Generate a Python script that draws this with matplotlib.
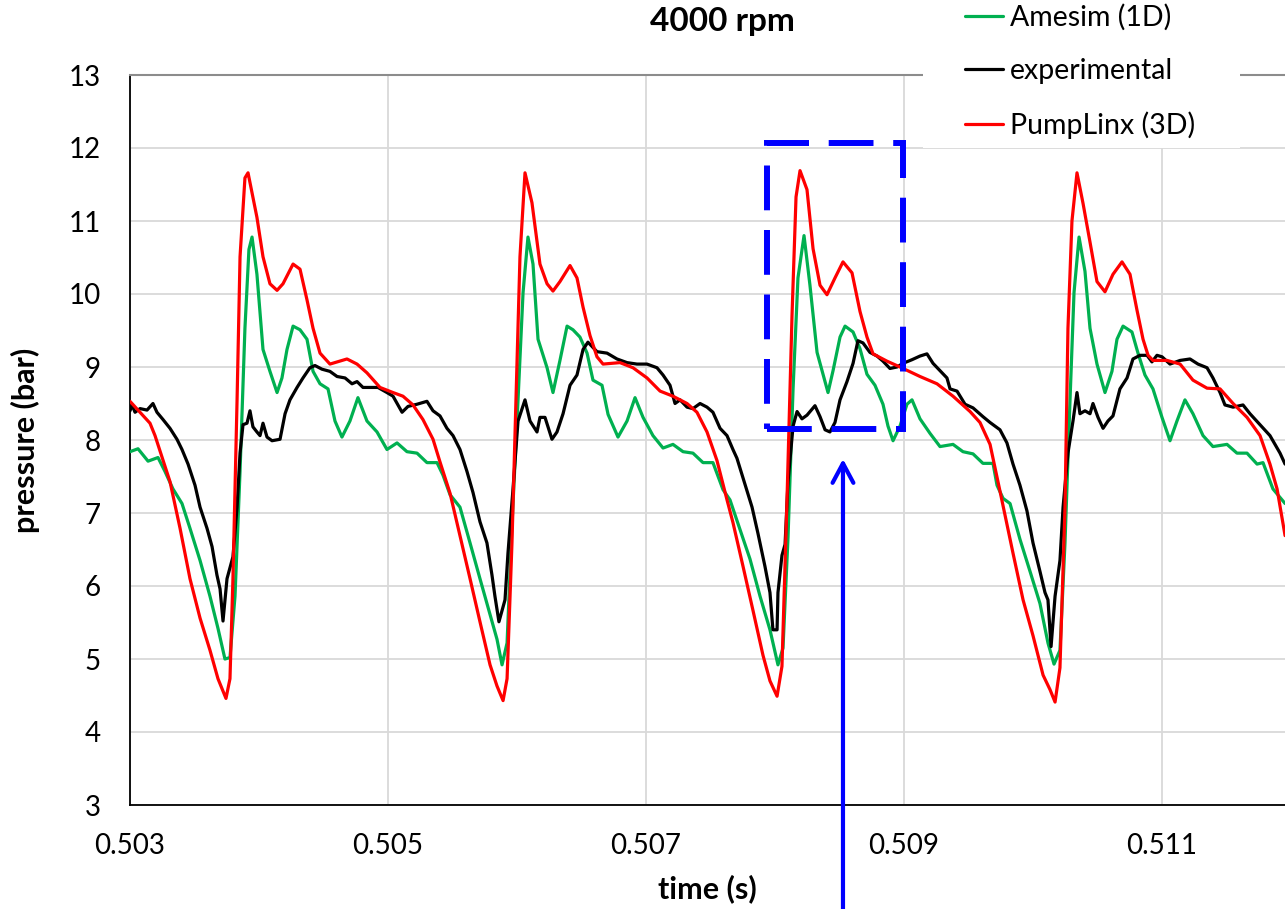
import matplotlib
matplotlib.use("Agg")
import matplotlib.pyplot as plt
from matplotlib.patches import Rectangle

plt.rcParams['font.family'] = ['Lato', 'DejaVu Sans']

# Amesim (1D) - green
t_amesim = [0.503000, 0.503062, 0.503140, 0.503217, 0.503271, 0.503333, 0.503403, 0.503465,
            0.503543, 0.503620, 0.503682, 0.503736, 0.503775, 0.503814, 0.503853, 0.503891,
            0.503922, 0.503946, 0.503984, 0.504031, 0.504085, 0.504140, 0.504178, 0.504217,
            0.504264, 0.504318, 0.504372, 0.504419, 0.504473, 0.504535, 0.504589, 0.504643,
            0.504705, 0.504767, 0.504837, 0.504915, 0.504992, 0.505070, 0.505147, 0.505225,
            0.505302, 0.505380, 0.505426, 0.505481, 0.505558, 0.505636, 0.505713, 0.505791,
            0.505845, 0.505884, 0.505923, 0.505961, 0.506008, 0.506047, 0.506085, 0.506124,
            0.506163, 0.506233, 0.506279, 0.506333, 0.506388, 0.506434, 0.506488, 0.506543,
            0.506589, 0.506659, 0.506706, 0.506783, 0.506853, 0.506915, 0.506977, 0.507054,
            0.507132, 0.507209, 0.507287, 0.507364, 0.507442, 0.507519, 0.507597, 0.507651,
            0.507729, 0.507806, 0.507884, 0.507961, 0.508023, 0.508062, 0.508101, 0.508140,
            0.508178, 0.508225, 0.508271, 0.508326, 0.508372, 0.508411, 0.508450, 0.508504,
            0.508543, 0.508605, 0.508659, 0.508713, 0.508775, 0.508837, 0.508876, 0.508915,
            0.508969, 0.509023, 0.509062, 0.509124, 0.509202, 0.509279, 0.509380, 0.509457,
            0.509535, 0.509612, 0.509690, 0.509721, 0.509768, 0.509822, 0.509899, 0.509977,
            0.510054, 0.510116, 0.510163, 0.510209, 0.510248, 0.510287, 0.510318, 0.510357,
            0.510403, 0.510442, 0.510496, 0.510558, 0.510612, 0.510651, 0.510698, 0.510767,
            0.510814, 0.510868, 0.510930, 0.511000, 0.511062, 0.511116, 0.511178, 0.511240,
            0.511318, 0.511395, 0.511504, 0.511581, 0.511659, 0.511737, 0.511783, 0.511860,
            0.511954]
p_amesim = [7.84, 7.88, 7.71, 7.76, 7.57, 7.33, 7.13, 6.79,
            6.35, 5.86, 5.42, 5.00, 5.02, 5.86, 7.57, 9.53,
            10.61, 10.78, 10.27, 9.24, 8.94, 8.65, 8.85, 9.24,
            9.56, 9.51, 9.38, 8.94, 8.77, 8.70, 8.26, 8.04,
            8.26, 8.58, 8.26, 8.11, 7.87, 7.96, 7.84, 7.82,
            7.69, 7.69, 7.52, 7.25, 7.08, 6.59, 6.10, 5.61,
            5.27, 4.92, 5.22, 6.83, 8.55, 10.02, 10.78, 10.41,
            9.38, 8.99, 8.65, 9.09, 9.56, 9.51, 9.41, 9.19,
            8.82, 8.75, 8.35, 8.04, 8.26, 8.58, 8.31, 8.06,
            7.89, 7.94, 7.84, 7.82, 7.69, 7.69, 7.32, 7.18,
            6.77, 6.37, 5.86, 5.40, 4.92, 5.15, 6.67, 8.70,
            10.22, 10.80, 10.12, 9.20, 8.90, 8.65, 8.95, 9.41,
            9.56, 9.48, 9.25, 8.90, 8.75, 8.49, 8.19, 7.99,
            8.19, 8.49, 8.55, 8.29, 8.09, 7.91, 7.94, 7.84,
            7.81, 7.68, 7.68, 7.38, 7.20, 7.13, 6.64, 6.20,
            5.76, 5.22, 4.93, 5.12, 6.59, 8.55, 10.02, 10.78,
            10.31, 9.53, 9.04, 8.65, 8.94, 9.38, 9.56, 9.48,
            9.19, 8.89, 8.70, 8.31, 7.99, 8.26, 8.55, 8.36,
            8.06, 7.91, 7.94, 7.82, 7.82, 7.67, 7.69, 7.33,
            7.13]

# experimental - black
t_exp = [0.503000, 0.503016, 0.503039, 0.503078, 0.503132, 0.503178, 0.503209, 0.503256,
         0.503310, 0.503364, 0.503403, 0.503450, 0.503504, 0.503543, 0.503597, 0.503636,
         0.503674, 0.503698, 0.503721, 0.503752, 0.503783, 0.503798, 0.503830, 0.503853,
         0.503876, 0.503907, 0.503930, 0.503953, 0.503984, 0.504008, 0.504031, 0.504062,
         0.504101, 0.504163, 0.504202, 0.504240, 0.504295, 0.504341, 0.504395, 0.504434,
         0.504488, 0.504550, 0.504605, 0.504667, 0.504721, 0.504760, 0.504806, 0.504860,
         0.504922, 0.504992, 0.505039, 0.505109, 0.505155, 0.505225, 0.505302, 0.505349,
         0.505403, 0.505457, 0.505504, 0.505558, 0.505612, 0.505659, 0.505713, 0.505767,
         0.505806, 0.505829, 0.505860, 0.505907, 0.505930, 0.505969, 0.506008, 0.506062,
         0.506101, 0.506155, 0.506178, 0.506217, 0.506271, 0.506310, 0.506357, 0.506411,
         0.506465, 0.506512, 0.506550, 0.506620, 0.506698, 0.506775, 0.506853, 0.506930,
         0.507008, 0.507085, 0.507132, 0.507186, 0.507225, 0.507264, 0.507318, 0.507364,
         0.507419, 0.507473, 0.507519, 0.507574, 0.507628, 0.507674, 0.507705, 0.507752,
         0.507822, 0.507868, 0.507922, 0.507961, 0.507984, 0.508016, 0.508023, 0.508054,
         0.508078, 0.508101, 0.508140, 0.508171, 0.508209, 0.508248, 0.508310, 0.508349,
         0.508388, 0.508426, 0.508465, 0.508504, 0.508558, 0.508605, 0.508643, 0.508682,
         0.508736, 0.508791, 0.508837, 0.508891, 0.508946, 0.508992, 0.509062, 0.509124,
         0.509178, 0.509225, 0.509279, 0.509333, 0.509357, 0.509411, 0.509473, 0.509535,
         0.509612, 0.509667, 0.509744, 0.509798, 0.509845, 0.509899, 0.509953, 0.510000,
         0.510054, 0.510093, 0.510116, 0.510140, 0.510171, 0.510209, 0.510233, 0.510271,
         0.510310, 0.510341, 0.510364, 0.510403, 0.510442, 0.510465, 0.510504, 0.510543,
         0.510581, 0.510620, 0.510674, 0.510729, 0.510775, 0.510829, 0.510884, 0.510922,
         0.510961, 0.511000, 0.511062, 0.511140, 0.511217, 0.511279, 0.511349, 0.511395,
         0.511450, 0.511488, 0.511551, 0.511628, 0.511682, 0.511760, 0.511837, 0.511915,
         0.511954]
p_exp = [8.40, 8.48, 8.38, 8.43, 8.41, 8.50, 8.38, 8.28,
         8.16, 8.01, 7.87, 7.67, 7.38, 7.08, 6.79, 6.54,
         6.15, 5.96, 5.52, 6.10, 6.30, 6.40, 7.08, 7.82,
         8.21, 8.23, 8.40, 8.18, 8.11, 8.06, 8.23, 8.04,
         7.99, 8.01, 8.36, 8.55, 8.72, 8.85, 8.99, 9.02,
         8.97, 8.94, 8.87, 8.85, 8.77, 8.80, 8.72, 8.72,
         8.72, 8.65, 8.60, 8.38, 8.46, 8.49, 8.53, 8.40,
         8.33, 8.16, 8.06, 7.87, 7.57, 7.28, 6.88, 6.59,
         6.15, 5.86, 5.51, 5.81, 6.45, 7.33, 8.26, 8.55,
         8.26, 8.11, 8.31, 8.31, 8.01, 8.11, 8.36, 8.75,
         8.89, 9.24, 9.34, 9.21, 9.19, 9.11, 9.06, 9.04,
         9.04, 8.99, 8.89, 8.75, 8.50, 8.55, 8.45, 8.43,
         8.50, 8.45, 8.38, 8.16, 8.06, 7.87, 7.75, 7.48,
         7.08, 6.72, 6.27, 5.91, 5.40, 5.40, 5.91, 6.42,
         6.57, 7.43, 8.19, 8.39, 8.29, 8.34, 8.47, 8.32,
         8.14, 8.11, 8.24, 8.55, 8.80, 9.05, 9.36, 9.33,
         9.20, 9.15, 9.08, 8.98, 9.00, 9.05, 9.10, 9.15,
         9.18, 9.05, 8.95, 8.85, 8.70, 8.67, 8.49, 8.44,
         8.32, 8.24, 8.14, 7.96, 7.67, 7.38, 7.03, 6.59,
         6.20, 5.91, 5.81, 5.17, 5.86, 6.35, 7.08, 7.82,
         8.26, 8.65, 8.36, 8.40, 8.36, 8.50, 8.31, 8.16,
         8.26, 8.33, 8.70, 8.85, 9.11, 9.16, 9.16, 9.07,
         9.16, 9.14, 9.04, 9.09, 9.11, 9.04, 8.99, 8.85,
         8.65, 8.48, 8.45, 8.48, 8.36, 8.21, 8.06, 7.82,
         7.67]

# PumpLinx (3D) - red
t_pumplinx = [0.503000, 0.503155, 0.503194, 0.503310, 0.503388, 0.503465, 0.503543, 0.503620,
              0.503682, 0.503744, 0.503775, 0.503798, 0.503830, 0.503853, 0.503891, 0.503915,
              0.503984, 0.504031, 0.504085, 0.504140, 0.504186, 0.504264, 0.504318, 0.504372,
              0.504419, 0.504473, 0.504550, 0.504682, 0.504760, 0.504837, 0.504938, 0.505039,
              0.505116, 0.505194, 0.505271, 0.505349, 0.505403, 0.505481, 0.505558, 0.505636,
              0.505713, 0.505791, 0.505845, 0.505892, 0.505923, 0.505961, 0.506000, 0.506023,
              0.506062, 0.506116, 0.506178, 0.506233, 0.506279, 0.506333, 0.506411, 0.506465,
              0.506512, 0.506566, 0.506620, 0.506667, 0.506798, 0.506899, 0.507008, 0.507109,
              0.507209, 0.507318, 0.507395, 0.507473, 0.507550, 0.507628, 0.507674, 0.507752,
              0.507830, 0.507907, 0.507961, 0.508016, 0.508054, 0.508093, 0.508132, 0.508163,
              0.508194, 0.508248, 0.508295, 0.508349, 0.508403, 0.508465, 0.508527, 0.508597,
              0.508659, 0.508713, 0.508760, 0.508868, 0.508969, 0.509124, 0.509256, 0.509380,
              0.509512, 0.509589, 0.509667, 0.509744, 0.509845, 0.509923, 0.510000, 0.510078,
              0.510132, 0.510171, 0.510209, 0.510248, 0.510271, 0.510302, 0.510341, 0.510388,
              0.510442, 0.510496, 0.510558, 0.510620, 0.510690, 0.510752, 0.510806, 0.510853,
              0.510892, 0.510930, 0.511039, 0.511140, 0.511240, 0.511349, 0.511450, 0.511551,
              0.511659, 0.511760, 0.511837, 0.511892, 0.511954]
p_pumplinx = [8.53, 8.23, 8.06, 7.43, 6.79, 6.10, 5.56, 5.12,
              4.73, 4.46, 4.73, 6.10, 8.55, 10.51, 11.59, 11.66,
              11.05, 10.51, 10.14, 10.05, 10.14, 10.41, 10.34, 9.92,
              9.53, 9.19, 9.04, 9.11, 9.04, 8.92, 8.72, 8.65,
              8.60, 8.48, 8.28, 8.01, 7.70, 7.27, 6.69, 6.10,
              5.51, 4.92, 4.63, 4.43, 4.73, 6.59, 9.04, 10.51,
              11.66, 11.25, 10.41, 10.14, 10.04, 10.17, 10.39, 10.22,
              9.82, 9.43, 9.14, 9.04, 9.06, 8.99, 8.85, 8.67,
              8.60, 8.50, 8.38, 8.11, 7.72, 7.18, 6.87, 6.27,
              5.66, 5.05, 4.70, 4.49, 4.90, 7.18, 9.71, 11.33,
              11.69, 11.43, 10.62, 10.12, 9.99, 10.22, 10.44, 10.29,
              9.76, 9.41, 9.18, 9.08, 9.00, 8.87, 8.77, 8.60,
              8.39, 8.24, 7.94, 7.30, 6.45, 5.81, 5.32, 4.78,
              4.58, 4.41, 4.88, 7.08, 9.53, 11.00, 11.66, 11.24,
              10.71, 10.17, 10.03, 10.27, 10.44, 10.27, 9.78, 9.38,
              9.16, 9.09, 9.09, 9.04, 8.82, 8.71, 8.70, 8.50,
              8.31, 8.06, 7.67, 7.33, 6.69]

x_ticks = [0.503, 0.505, 0.507, 0.509, 0.511]
x_ticklabels = ['0.503', '0.505', '0.507', '0.509', '0.511']
y_ticks = [3, 4, 5, 6, 7, 8, 9, 10, 11, 12, 13]

# highlighted zone and arrow
box_t = (0.507938, 0.508992)
box_p = (8.15, 12.07)
arrow_t = 0.508527
arrow_p = (1.5, 7.74)

W, H = 1285, 909
fig = plt.figure(figsize=(W / 100, H / 100), dpi=100)
ax = fig.add_axes([130 / W, 1 - 805 / H, 1155 / W, 730 / H])

line_kw = dict(lw=2.3, solid_joinstyle='round', solid_capstyle='round')
ax.plot(t_amesim, p_amesim, color='#00B050', label='Amesim (1D)', zorder=3, **line_kw)
ax.plot(t_exp, p_exp, color='black', label='experimental', zorder=4, **line_kw)
ax.plot(t_pumplinx, p_pumplinx, color='#FF0000', label='PumpLinx (3D)', zorder=5, **line_kw)

ax.set_xlim(0.503, 0.503 + 1155 / 129000)
ax.set_ylim(3, 13)
ax.set_xticks(x_ticks)
ax.set_xticklabels(x_ticklabels)
ax.set_yticks(y_ticks)
ax.tick_params(length=0, labelsize=20)
ax.tick_params(axis='x', pad=20)
ax.tick_params(axis='y', pad=21)
ax.grid(True, color='#d9d9d9', lw=1.3)
ax.set_axisbelow(True)

ax.spines['right'].set_visible(False)
ax.spines['top'].set_color('#8c8c8c')
ax.spines['top'].set_linewidth(1.5)
ax.spines['left'].set_linewidth(1.3)
ax.spines['bottom'].set_linewidth(1.3)

ax.set_ylabel('pressure (bar)', fontsize=22, fontweight='bold')
ax.yaxis.set_label_coords(-90 / 1155, 0.5)
fig.text(707 / W, 1 - 889 / H, 'time (s)', fontsize=22, fontweight='bold', ha='center', va='center')
fig.text(722 / W, 1 - 22 / H, '4000 rpm', fontsize=24, fontweight='bold', ha='center', va='center')

rect = Rectangle((box_t[0], box_p[0]), box_t[1] - box_t[0], box_p[1] - box_p[0],
                 fill=False, edgecolor='#0000FF', lw=4.3, linestyle=(0, (7.5, 3.3)), zorder=6)
ax.add_patch(rect)

ax.annotate('', xy=(arrow_t, arrow_p[1]), xytext=(arrow_t, arrow_p[0]),
            arrowprops=dict(arrowstyle='->,head_length=1.4,head_width=0.75', color='#0000FF',
                            lw=3, shrinkA=0, shrinkB=0),
            annotation_clip=False, zorder=7)

# white legend area covering the top border
fig.patches.append(Rectangle((923 / W, 1 - 148 / H), 317 / W, 148 / H, transform=fig.transFigure,
                             facecolor='white', edgecolor='none', zorder=4))
leg = fig.legend(loc='upper left', bbox_to_anchor=(965 / W, 1 - 4 / H), frameon=False,
                 fontsize=20.5, handlelength=1.33, handletextpad=0.25, labelspacing=0.96,
                 borderpad=0, borderaxespad=0)
leg.set_zorder(6)

fig.savefig('out.png', dpi=100)
